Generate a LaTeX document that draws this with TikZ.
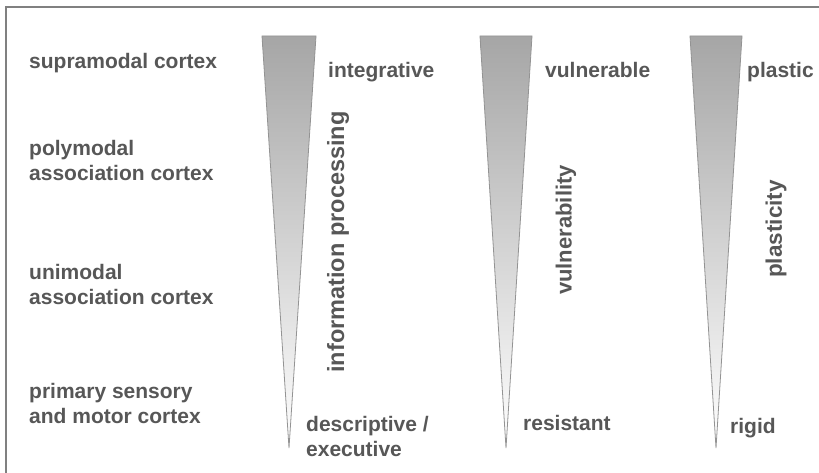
\documentclass[tikz,border=0pt]{standalone}
\usepackage{fontspec}
\setmainfont{Liberation Sans}
\usetikzlibrary{positioning}
\tikzset{
  lbl/.style={font=\fontsize{21}{25}\selectfont\bfseries, text=black!66, inner sep=0pt, align=left, anchor=base west},
  vlbl/.style={lbl, rotate=90, anchor=center},
  wedge/.style={draw=gray!85, line width=0.8pt, top color=gray!70, bottom color=white}
}

\begin{document}
\begin{tikzpicture}[x=1pt,y=-1pt]
\useasboundingbox (0,0) rectangle (819,473);
\fill[white] (0,0) rectangle (819,473);
% frame
\draw[gray, line width=1.5pt] (6,473) -- (6,7) -- (819,7);
% wedges
\foreach \xl/\xr/\xt in {262/316/289, 480/532/506, 690/742/716}
  \shadedraw[wedge] (\xl,36) -- (\xr,36) -- (\xt,448) -- cycle;
% cortex levels (base = last line)
\node[lbl] (supra) at (29,69) {supramodal cortex};
\node[lbl] (poly) at (29,181) {polymodal\\association cortex};
\node[lbl] (uni) at (29,304) {unimodal\\association cortex};
\node[lbl] (prim) at (29,423) {primary sensory\\and motor cortex};
% wedge ends
\node[lbl] (integ) at (328,78) {integrative};
\node[lbl] (descr) at (306,456) {descriptive /\\executive};
\node[lbl] (vuln) at (545,78) {vulnerable};
\node[lbl] (resis) at (523,430) {resistant};
\node[lbl] (plast) at (747,78) {plastic};
\node[lbl] (rigid) at (730,433) {rigid};
% wedge titles
\node[vlbl, font=\fontsize{23.5}{25}\selectfont\bfseries] (info) at (338,242) {information processing};
\node[vlbl, font=\fontsize{22}{25}\selectfont\bfseries] (vulnty) at (566,230) {vulnerability};
\node[vlbl, font=\fontsize{22.5}{25}\selectfont\bfseries] (plcity) at (776,229) {plasticity};
\end{tikzpicture}
\end{document}
